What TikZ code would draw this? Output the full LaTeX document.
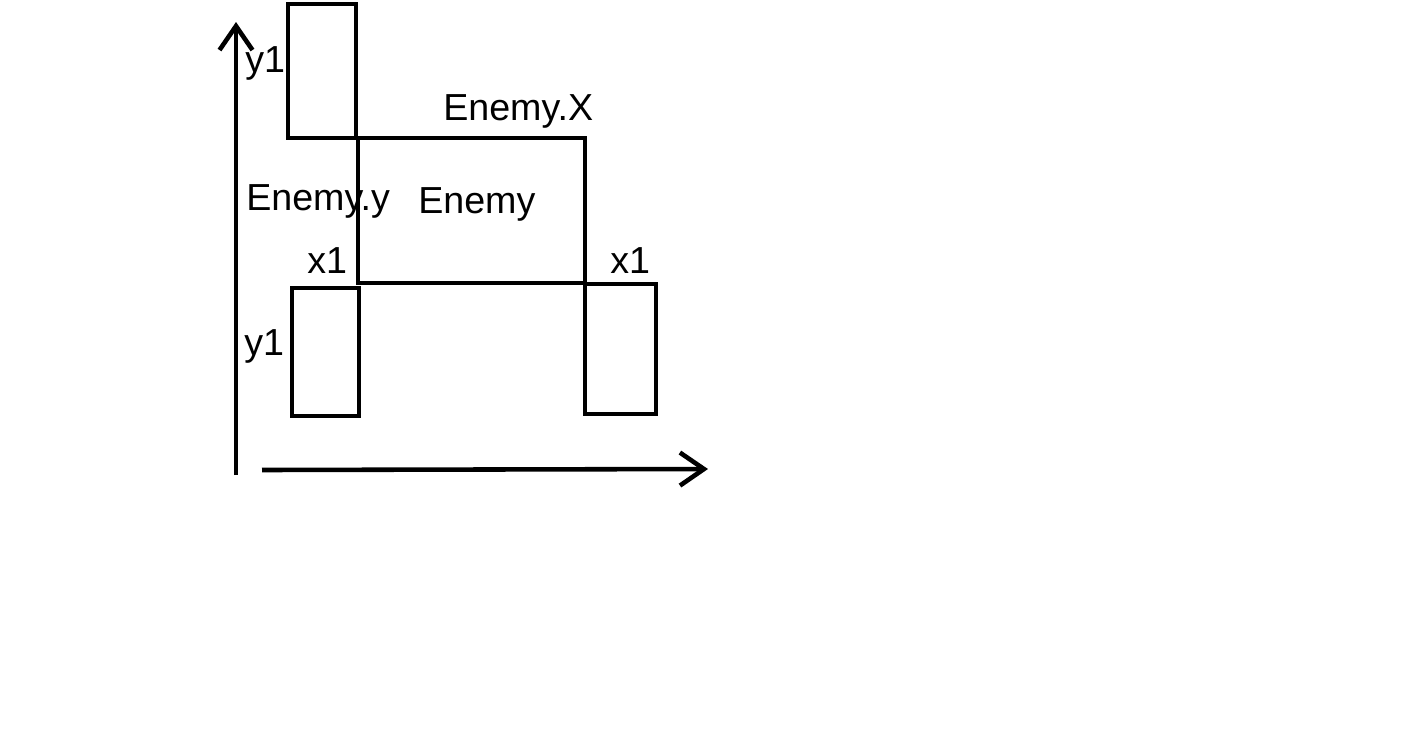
\documentclass[tikz,border=0pt]{standalone}
\usepackage{fontspec}
\setmainfont{Liberation Sans}
\usetikzlibrary{arrows.meta}
\begin{document}
\begin{tikzpicture}[x=0.01cm, y=-0.01cm, line width=1.3pt, >={Straight Barb[length=2.4mm, width=3.3mm]},
        box/.style={draw, rectangle, inner sep=0pt}, lbl/.style={anchor=base west, inner sep=0pt, font=\fontsize{10.7}{12}\selectfont}]
        \useasboundingbox (0,0) rectangle (1409,739);
        \node[box, minimum width=0.68cm, minimum height=1.34cm] (TL) at (322,71) {};
        \node[box, minimum width=2.27cm, minimum height=1.45cm] (E) at (471.5,210.5) {};
        \node[box, minimum width=0.67cm, minimum height=1.28cm] (BL) at (325.5,352) {};
        \node[box, minimum width=0.71cm, minimum height=1.30cm] (BR) at (620.5,349) {};
        \coordinate (O) at (236,475);
        \coordinate (Y) at (236,22);
        \coordinate (XS) at (262,470);
        \coordinate (XE) at (708,469);
        \draw[->] (O) -- (Y);
        \draw[->] (XS) -- (XE);
        \node[lbl] (y1a) at (243,72) {y1};
        \node[lbl] (ex) at (441,120) {Enemy.X};
        \node[lbl] (ey) at (244,210) {Enemy.y};
        \node[lbl] (en) at (416,213) {Enemy};
        \node[lbl] (x1a) at (305,273) {x1};
        \node[lbl] (x1b) at (608,273) {x1};
        \node[lbl] (y1b) at (242,355) {y1};
    \end{tikzpicture}
\end{document}
